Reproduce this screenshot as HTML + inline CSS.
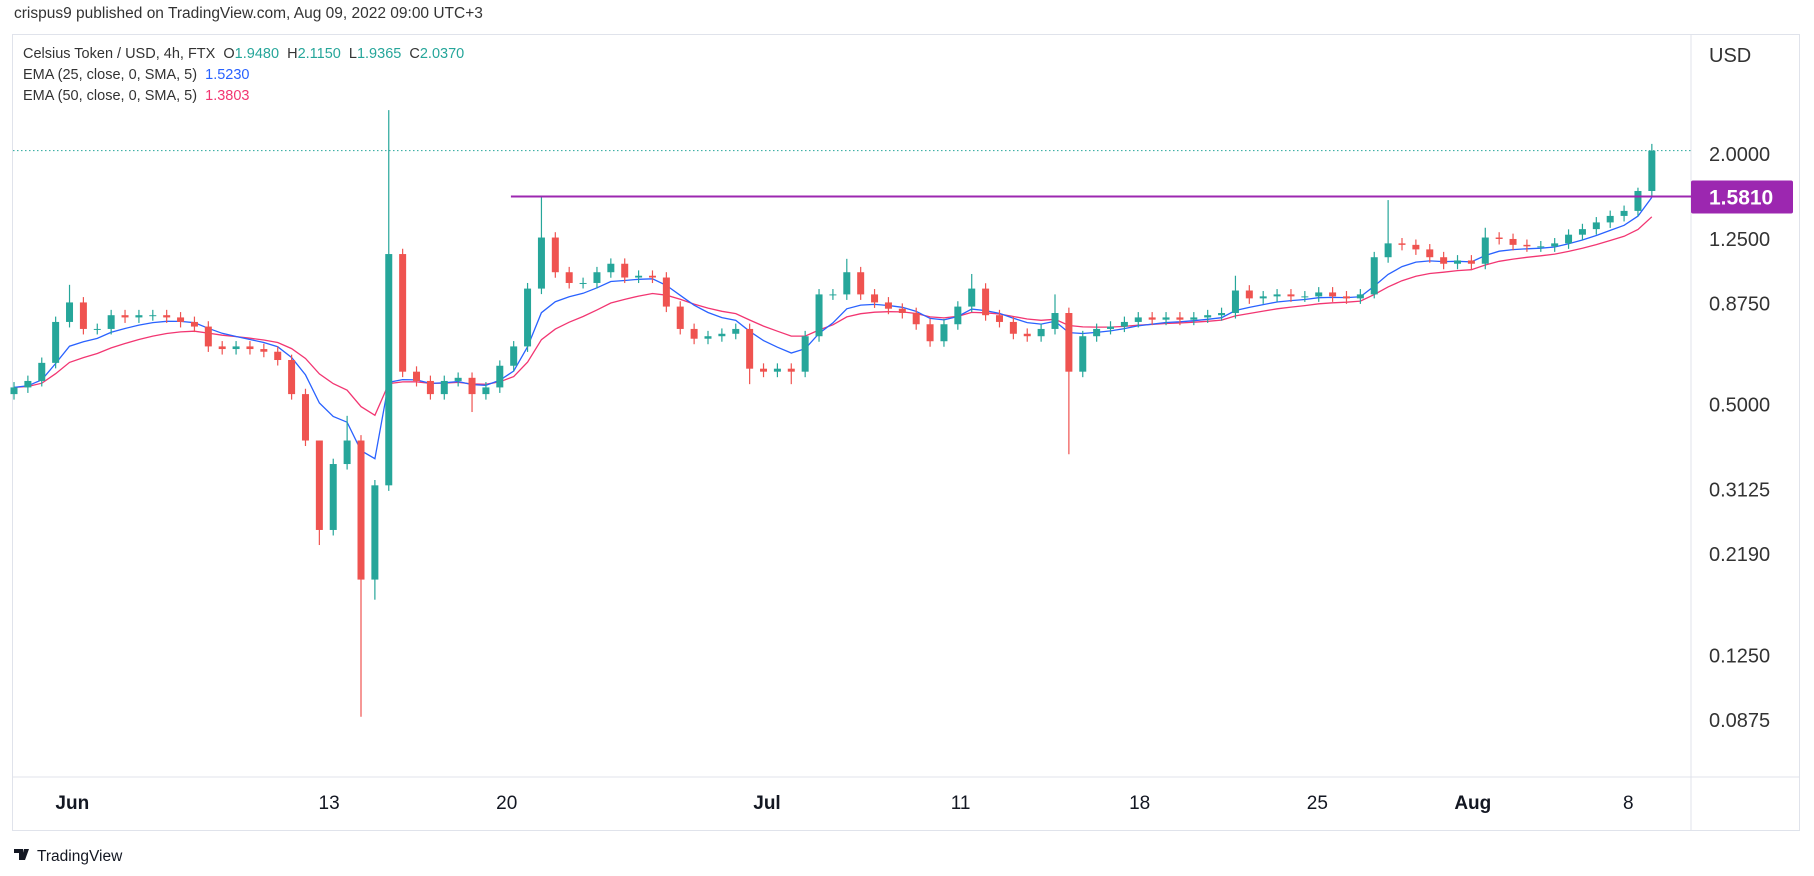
<!DOCTYPE html>
<html><head><meta charset="utf-8"><style>
body{margin:0;background:#fff;width:1814px;height:876px;overflow:hidden;font-family:"Liberation Sans","DejaVu Sans",sans-serif;}
svg{display:block}
</style></head><body>
<svg id="chart" width="1814" height="876">
<text x="14" y="18" font-size="15.5" fill="#333">crispus9 published on TradingView.com, Aug 09, 2022 09:00 UTC+3</text>
<rect x="12.5" y="34.5" width="1787" height="796" fill="#fff" stroke="#e0e3eb"/>
<line x1="1691" y1="35" x2="1691" y2="830" stroke="#e0e3eb"/>
<line x1="13" y1="777" x2="1799" y2="777" stroke="#e0e3eb"/>
<g id="plot"></g>
<g font-size="14.5" fill="#333">
<text x="23" y="58">Celsius Token / USD, 4h, FTX&#160; O<tspan fill="#26a69a">1.9480</tspan>&#160; H<tspan fill="#26a69a">2.1150</tspan>&#160; L<tspan fill="#26a69a">1.9365</tspan>&#160; C<tspan fill="#26a69a">2.0370</tspan></text>
<text x="23" y="79">EMA (25, close, 0, SMA, 5)&#160; <tspan fill="#2962ff">1.5230</tspan></text>
<text x="23" y="100">EMA (50, close, 0, SMA, 5)&#160; <tspan fill="#f23672">1.3803</tspan></text>
</g>
<text x="1709" y="62" font-size="20" fill="#333">USD</text>
<g id="yticks"></g>
<g id="xticks"></g>
<g>
<path d="M14 849h9v11h-4v-7h-5z M24 849h5l-4 11h-4z" fill="#131722"/>
<circle cx="25.5" cy="851" r="2" fill="#131722"/>
<text x="37" y="861" font-size="15.5" fill="#131722">TradingView</text>
</g>
</svg>
<script>
const closes=[0.55,0.57,0.63,0.79,0.88,0.76,0.76,0.82,0.81,0.82,0.82,0.81,0.79,0.77,0.69,0.68,0.69,0.68,0.67,0.64,
0.53,0.41,0.25,0.36,0.41,0.19,0.32,1.15,0.60,0.57,0.53,0.57,0.58,0.53,0.55,0.62,0.69,0.95,1.26,1.04,
0.98,0.98,1.04,1.09,1.01,1.02,1.01,0.86,0.76,0.72,0.73,0.74,0.76,0.61,0.60,0.61,0.60,0.73,0.92,0.92,
1.04,0.92,0.88,0.85,0.83,0.78,0.71,0.78,0.86,0.95,0.82,0.79,0.74,0.73,0.76,0.83,0.60,0.73,0.76,0.77,
0.79,0.81,0.80,0.81,0.80,0.81,0.82,0.83,0.94,0.90,0.91,0.92,0.91,0.91,0.93,0.91,0.90,0.92,1.13,1.22,
1.21,1.18,1.13,1.09,1.11,1.09,1.26,1.25,1.21,1.20,1.20,1.22,1.28,1.32,1.37,1.42,1.46,1.63,2.037];
const firstOpen=0.53;
const highIdx=[4,22,24,27,37,38,60,69,75,88,99,106,117,118];
const highVal=[0.97,0.41,0.47,2.55,0.98,1.58,1.12,1.03,0.92,1.02,1.55,1.33,1.66,2.115];
const lowIdx=[22,25,26,33,53,56,76,98];
const lowVal=[0.23,0.089,0.17,0.48,0.56,0.56,0.38,0.90];
const yTicks=[2.0,1.25,0.875,0.5,0.3125,0.219,0.125,0.0875];
const yTickLabels=["2.0000","1.2500","0.8750","0.5000","0.3125","0.2190","0.1250","0.0875"];
const xTickPos=[4.2,22.7,35.5,54.25,68.2,81.1,93.9,105.1,116.3];
const xTickLabels=["Jun","13","20","Jul","11","18","25","Aug","8"];
const xTickBold=[true,false,false,true,false,false,false,true,false];
const resistance=1.581, resistanceStart=35.8;
const lastClose=2.037;

const NS="http://www.w3.org/2000/svg";
const X0=14,STEP=13.88;
const xs=i=>X0+i*STEP;
const ys=p=>154+(Math.LN2-Math.log(p))*180.8;
function mk(tag,attrs,parent){const e=document.createElementNS(NS,tag);for(const k in attrs)e.setAttribute(k,attrs[k]);parent.appendChild(e);return e;}
const plot=document.getElementById('plot');
// last price dotted line
let l=mk('line',{x1:13,x2:1691,y1:ys(lastClose),y2:ys(lastClose),stroke:'#26a69a','stroke-dasharray':'1.5 2.5','stroke-width':1},plot);


// EMAs
function ema(arr,n){const k=2/(n+1);let out=[],v=arr[0];arr.forEach((c,i)=>{v=i?c*k+v*(1-k):c;out.push(v);});return out;}
const e25=ema(closes,7),e50=ema(closes,14);
[[e50,'#f23672','ema50-line'],[e25,'#2962ff','ema25-line']].forEach(([arr,col,name])=>{
 const p=mk('polyline',{points:arr.map((v,i)=>xs(i).toFixed(1)+','+ys(v).toFixed(1)).join(' '),fill:'none',stroke:col,'stroke-width':1.3},plot);
 
 
});
// candles
closes.forEach((c,i)=>{
 const o=i?closes[i-1]:firstOpen;
 let h=Math.max(o,c)*1.03,lo=Math.min(o,c)*0.97;
 const hi=highIdx.indexOf(i);if(hi>=0)h=highVal[hi];
 const li=lowIdx.indexOf(i);if(li>=0)lo=lowVal[li];
 const col=c>=o?'#26a69a':'#ef5350';
 const g=mk('g',{},plot);
 
 
 const x=xs(i);
 mk('line',{x1:x,x2:x,y1:ys(h),y2:ys(lo),stroke:col,'stroke-width':1.2},g);
 const y1=ys(Math.max(o,c)),y2=ys(Math.min(o,c));
 mk('rect',{x:x-3.5,y:y1,width:7,height:Math.max(1,y2-y1),fill:col},g);
});
// resistance
l=mk('line',{x1:xs(resistanceStart),x2:1691,y1:ys(resistance),y2:ys(resistance),stroke:'#9c27b0','stroke-width':2},plot);


// y ticks
const yt=document.getElementById('yticks');
yTicks.forEach((v,i)=>{
 const t=mk('text',{x:1709,y:ys(v)+7,'font-size':20,fill:'#333'},yt);
 t.textContent=yTickLabels[i];
 
 
});
const box=mk('rect',{x:1691,y:ys(resistance)-16,width:102,height:33,fill:'#9c27b0',rx:2},yt);


const bt=mk('text',{x:1709,y:ys(resistance)+8,'font-size':21,fill:'#fff','font-weight':'bold'},yt);
bt.textContent=resistance.toFixed(4);


// x ticks
const xt=document.getElementById('xticks');
xTickPos.forEach((p,i)=>{
 const t=mk('text',{x:xs(p),y:809,'font-size':19,fill:'#131722','text-anchor':'middle','font-weight':xTickBold[i]?'bold':'normal'},xt);
 t.textContent=xTickLabels[i];
 
 
});
</script>
</body></html>
